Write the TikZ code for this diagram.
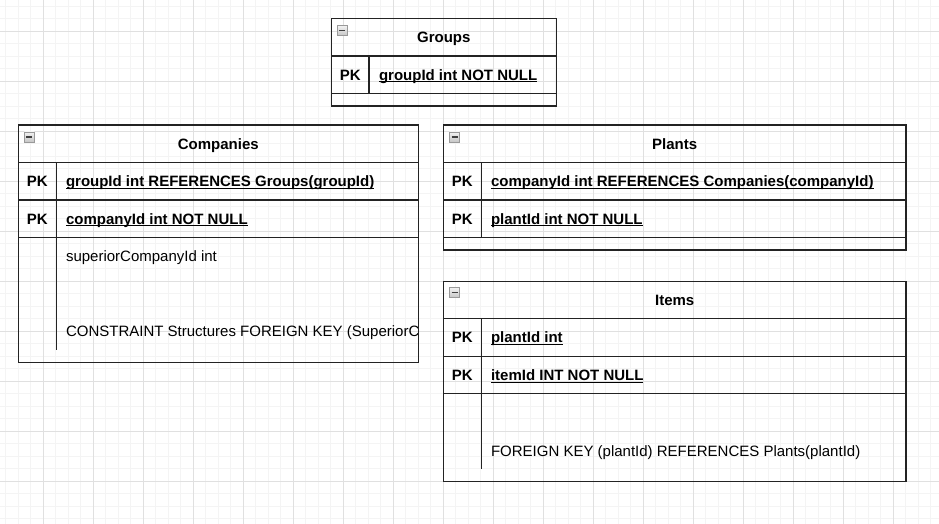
\documentclass[tikz,border=0pt]{standalone}
\usepackage{fontspec}
\setmainfont{Liberation Sans}
\usetikzlibrary{positioning}

\definecolor{gridminor}{RGB}{244,244,244}
\definecolor{gridmajor}{RGB}{224,224,224}
\definecolor{tableline}{RGB}{35,35,35}

\newsavebox{\keybox}
\newcommand{\keyname}[1]{\sbox{\keybox}{#1}\rlap{\rule[-2.3pt]{\wd\keybox}{1.1pt}}\usebox{\keybox}}

\begin{document}
\begin{tikzpicture}[x=1pt,y=-1pt,
  every node/.style={inner sep=0pt,outer sep=0pt,font=\fontsize{15}{18}\selectfont},
  title/.style={anchor=base,font=\fontsize{15}{18}\selectfont\bfseries},
  pk/.style={anchor=base,font=\fontsize{15}{18}\selectfont\bfseries},
  field/.style={anchor=base west,font=\fontsize{15}{18}\selectfont\bfseries},
  plainfield/.style={anchor=base west},
  tableline/.style={draw=tableline,line width=1.1pt},
  minusbox/.style={anchor=north west,minimum size=10pt,draw=gray!80,line width=0.7pt,
    top color=gray!10,bottom color=gray!45,
    path picture={\draw[line width=1.6pt,black!75]
      ([xshift=2pt]path picture bounding box.west) -- ([xshift=-2pt]path picture bounding box.east);}}]

\useasboundingbox (0,0) rectangle (939,524);

% grid
\foreach \gx in {0,...,74} \draw[gridminor,line width=1pt] (5.8+12.5*\gx,0) -- (5.8+12.5*\gx,524);
\foreach \gy in {0,...,41} \draw[gridminor,line width=1pt] (0,6.3+12.5*\gy) -- (939,6.3+12.5*\gy);
\foreach \gx in {0,...,18} \draw[gridmajor,line width=1pt] (43.3+50*\gx,0) -- (43.3+50*\gx,524);
\foreach \gy in {0,...,10} \draw[gridmajor,line width=1pt] (0,31.3+50*\gy) -- (939,31.3+50*\gy);

% Groups
\draw[tableline] (331.3,18.5) rectangle (556.3,106);
\draw[tableline] (331.3,56) -- (556.3,56);
\draw[tableline] (331.3,93.5) -- (556.3,93.5);
\draw[tableline] (369,56) -- (369,93.5);
\node[minusbox] (groupsToggle) at (337.3,25.5) {};
\node[title] (groupsTitle) at (443.8,42.6) {Groups};
\node[pk] (groupsPk) at (350.2,80.2) {PK};
\node[field] (groupsId) at (379,80.2) {\keyname{groupId int NOT NULL}};

% Companies
\draw[tableline] (18.3,125) rectangle (418.3,362.5);
\draw[tableline] (18.3,162.5) -- (418.3,162.5);
\draw[tableline] (18.3,200) -- (418.3,200);
\draw[tableline] (18.3,237.5) -- (418.3,237.5);
\draw[tableline] (56.3,162.5) -- (56.3,350);
\node[minusbox] (companiesToggle) at (24.3,132) {};
\node[title] (companiesTitle) at (218.3,149.1) {Companies};
\node[pk] (companiesPkA) at (37.3,186.6) {PK};
\node[field] (companiesGroup) at (66,186.6) {\keyname{groupId int REFERENCES Groups(groupId)}};
\node[pk] (companiesPkB) at (37.3,224.1) {PK};
\node[field] (companiesId) at (66,224.1) {\keyname{companyId int NOT NULL}};
\node[plainfield] (companiesSuperior) at (66,261.6) {superiorCompanyId int};
\begin{scope}
  \clip (56.3,300) rectangle (417.8,350);
  \node[plainfield] (companiesConstraint) at (66,336.6) {CONSTRAINT Structures FOREIGN KEY (SuperiorC};
\end{scope}

% Plants
\draw[tableline] (443.5,125) rectangle (906,250);
\draw[tableline] (443.5,162.5) -- (906,162.5);
\draw[tableline] (443.5,200) -- (906,200);
\draw[tableline] (443.5,237.5) -- (906,237.5);
\draw[tableline] (481.2,162.5) -- (481.2,237.5);
\node[minusbox] (plantsToggle) at (449.5,132) {};
\node[title] (plantsTitle) at (674.7,149.1) {Plants};
\node[pk] (plantsPkA) at (462.3,186.6) {PK};
\node[field] (plantsCompany) at (491,186.6) {\keyname{companyId int REFERENCES Companies(companyId)}};
\node[pk] (plantsPkB) at (462.3,224.1) {PK};
\node[field] (plantsId) at (491,224.1) {\keyname{plantId int NOT NULL}};

% Items
\draw[tableline] (443.5,281.25) rectangle (906,481.25);
\draw[tableline] (443.5,318.75) -- (906,318.75);
\draw[tableline] (443.5,356.25) -- (906,356.25);
\draw[tableline] (443.5,393.75) -- (906,393.75);
\draw[tableline] (481.2,318.75) -- (481.2,468.75);
\node[minusbox] (itemsToggle) at (449.5,287.5) {};
\node[title] (itemsTitle) at (674.7,305.4) {Items};
\node[pk] (itemsPkA) at (462.3,342.9) {PK};
\node[field] (itemsPlant) at (491,342.9) {\keyname{plantId int}};
\node[pk] (itemsPkB) at (462.3,380.4) {PK};
\node[field] (itemsId) at (491,380.4) {\keyname{itemId INT NOT NULL}};
\node[plainfield] (itemsForeign) at (491,456) {FOREIGN KEY (plantId) REFERENCES Plants(plantId)};

\end{tikzpicture}
\end{document}
